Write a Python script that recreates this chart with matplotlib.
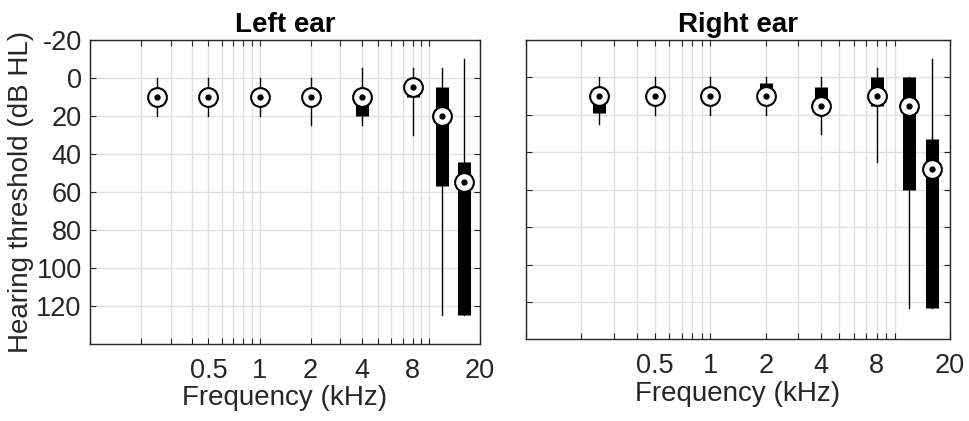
import numpy as np
import matplotlib
matplotlib.use("Agg")
import matplotlib.pyplot as plt
from matplotlib.ticker import LogLocator, NullFormatter

plt.rcParams['font.family'] = ['Liberation Sans', 'DejaVu Sans']

freqs = [0.25, 0.5, 1, 2, 4, 8, 12, 16]
xtick_vals = [0.5, 1, 2, 4, 8, 20]
xtick_labels = ["0.5", "1", "2", "4", "8", "20"]
ytick_vals = [-20, 0, 20, 40, 60, 80, 100, 120]

# left ear: median, box (q1, q3), whiskers (low, high) in dB HL
left_med = [10, 10, 10, 10, 10, 5, 20, 55]
left_q1 = [10, 10, 10, 10, 10, 5, 5, 44]
left_q3 = [10, 10, 10, 10, 20, 10, 57, 125]
left_wlo = [0, 0, 0, 0, -5, -5, -5, -10]
left_whi = [20, 20, 20, 25, 25, 30, 125, 125]

# right ear
right_med = [10, 10, 10, 10, 15, 10, 15, 49]
right_q1 = [10, 10, 10, 3, 5, 0, 0, 33]
right_q3 = [19, 10, 10, 10, 15, 15, 60, 123]
right_wlo = [0, 0, 0, 0, 0, -5, 0, -10]
right_whi = [25, 20, 20, 20, 30, 45, 123, 123]

txt = '#262626'
fig = plt.figure(figsize=(9.69, 4.21), dpi=100)
ax_l = fig.add_axes([0.0929, 0.1829, 0.4025, 0.7221])
ax_r = fig.add_axes([0.5428, 0.1936, 0.4376, 0.7114])


def draw_ear(ax, med, q1, q3, wlo, whi, title, ylab):
    for i, f in enumerate(freqs):
        ax.plot([f, f], [wlo[i], whi[i]], color='k', lw=1.0, zorder=3)
        ax.plot([f, f], [q1[i], q3[i]], color='k', lw=9.4,
                solid_capstyle='butt', zorder=4)
        ax.plot(f, med[i], 'o', ms=13.5, mfc='white', mec='k', mew=1.5, zorder=5)
        ax.plot(f, med[i], 'o', ms=3.5, color='k', zorder=6)
    ax.set_xscale('log')
    ax.set_xlim(0.1, 20)
    ax.set_ylim(140, -20)
    ax.set_xticks(xtick_vals)
    ax.set_xticklabels(xtick_labels)
    ax.xaxis.set_minor_locator(LogLocator(base=10, subs=np.arange(1, 10), numticks=20))
    ax.xaxis.set_minor_formatter(NullFormatter())
    ax.set_yticks(ytick_vals)
    if ylab:
        ax.set_yticklabels([str(v) for v in ytick_vals])
        ax.set_ylabel("Hearing threshold (dB HL)", fontsize=20, color=txt, labelpad=2)
    else:
        ax.set_yticklabels([])
    ax.grid(True, which='major', color='#dfdfdf', lw=1.0)
    ax.grid(True, which='minor', axis='x', color='#dfdfdf', lw=1.0)
    ax.set_axisbelow(True)
    ax.tick_params(which='both', direction='in', top=True, right=True,
                   length=4, width=0.8, color=txt, labelcolor=txt, labelsize=19.5)
    ax.tick_params(axis='x', pad=10)
    ax.tick_params(axis='y', pad=6)
    for s in ax.spines.values():
        s.set_color(txt)
        s.set_linewidth(1.0)
    ax.set_xlabel("Frequency (kHz)", fontsize=20, color=txt, labelpad=1)
    ax.set_title(title, fontsize=20, fontweight='bold', color='k', pad=6)


draw_ear(ax_l, left_med, left_q1, left_q3, left_wlo, left_whi, "Left ear", True)
draw_ear(ax_r, right_med, right_q1, right_q3, right_wlo, right_whi, "Right ear", False)

fig.savefig("out.png", dpi=100)
